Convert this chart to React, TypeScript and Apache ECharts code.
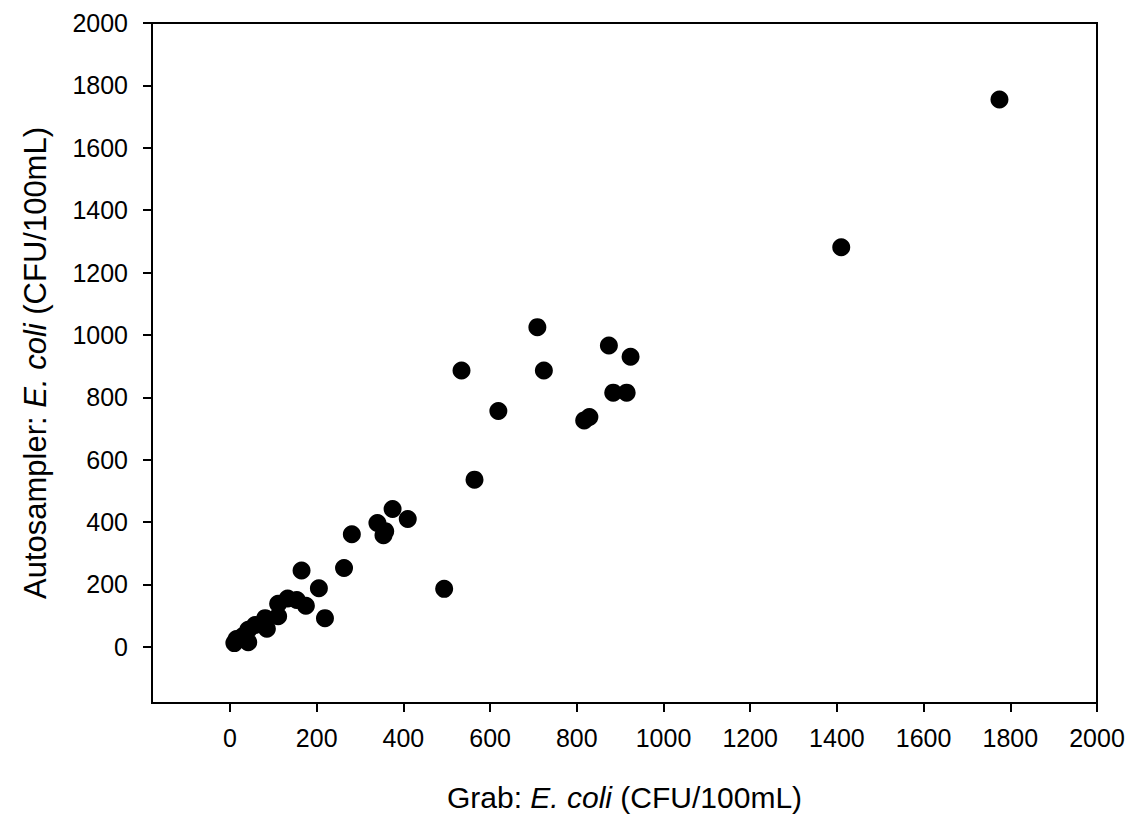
import React, { useEffect, useRef } from "react";
import * as echarts from "echarts";

const grabX = [
  1775, 1410, 709, 874, 924, 534, 724, 884, 915, 619, 817, 829, 564, 494,
  375, 340, 410, 358, 354, 281, 263, 165, 205, 219, 175, 154, 133, 111, 111,
  85, 81, 58, 42, 42, 15, 10, 30,
];
const autoY = [
  1755, 1281, 1025, 966, 930, 886, 886, 815, 815, 756, 726, 737, 536, 186,
  442, 397, 410, 371, 358, 361, 253, 245, 188, 92, 132, 150, 155, 138, 98,
  58, 92, 70, 55, 15, 25, 12, 35,
];
const tickValues = [0, 200, 400, 600, 800, 1000, 1200, 1400, 1600, 1800, 2000];
const axisMin = -180;
const axisMax = 2000;

export default function App() {
  const ref = useRef<HTMLDivElement>(null);
  useEffect(() => {
    if (!ref.current) return;
    const chart = echarts.init(ref.current, null, { renderer: "svg" });
    const data = grabX.map((x, i) => [x, autoY[i]]);
    const font = "Liberation Sans, Arial, sans-serif";
    const labelBase = {
      color: "#000",
      fontSize: 25,
      fontFamily: font,
      customValues: tickValues,
      formatter: (v: number) => String(v),
    };
    const axisCommon = {
      type: "value" as const,
      min: axisMin,
      max: axisMax,
      splitLine: { show: false },
      axisLine: { show: true, onZero: false, lineStyle: { color: "#000", width: 2 } },
      axisTick: {
        show: true,
        inside: false,
        length: 9,
        lineStyle: { color: "#000", width: 2 },
        customValues: tickValues,
      },
      nameLocation: "middle" as const,
    };
    const richX = {
      n: { fontSize: 30, fontFamily: font, color: "#000" },
      i: { fontSize: 30, fontFamily: font, color: "#000", fontStyle: "italic" as const },
    };
    const richY = {
      n: { fontSize: 31, fontFamily: font, color: "#000" },
      i: { fontSize: 31, fontFamily: font, color: "#000", fontStyle: "italic" as const },
    };
    chart.setOption({
      animation: false,
      backgroundColor: "#fff",
      grid: { left: 152, right: 36, top: 23, bottom: 116, show: true, borderColor: "#000", borderWidth: 2 },
      xAxis: {
        ...axisCommon,
        axisLabel: { ...labelBase, margin: 22 },
        name: "{n|Grab: }{i|E. coli}{n| (CFU/100mL)}",
        nameGap: 79,
        nameTextStyle: { rich: richX },
      },
      yAxis: {
        ...axisCommon,
        axisLabel: { ...labelBase, margin: 24 },
        name: "{n|Autosampler: }{i|E. coli}{n| (CFU/100mL)}",
        nameGap: 101,
        nameRotate: 90,
        nameTextStyle: { rich: richY },
      },
      series: [
        {
          type: "scatter",
          data,
          symbol: "circle",
          symbolSize: 18,
          itemStyle: { color: "#000", opacity: 1 },
        },
      ],
    });
    return () => chart.dispose();
  }, []);
  return (
    <div
      ref={ref}
      style={{ position: "fixed", left: 0, top: 0, width: 1133, height: 819 }}
    />
  );
}
